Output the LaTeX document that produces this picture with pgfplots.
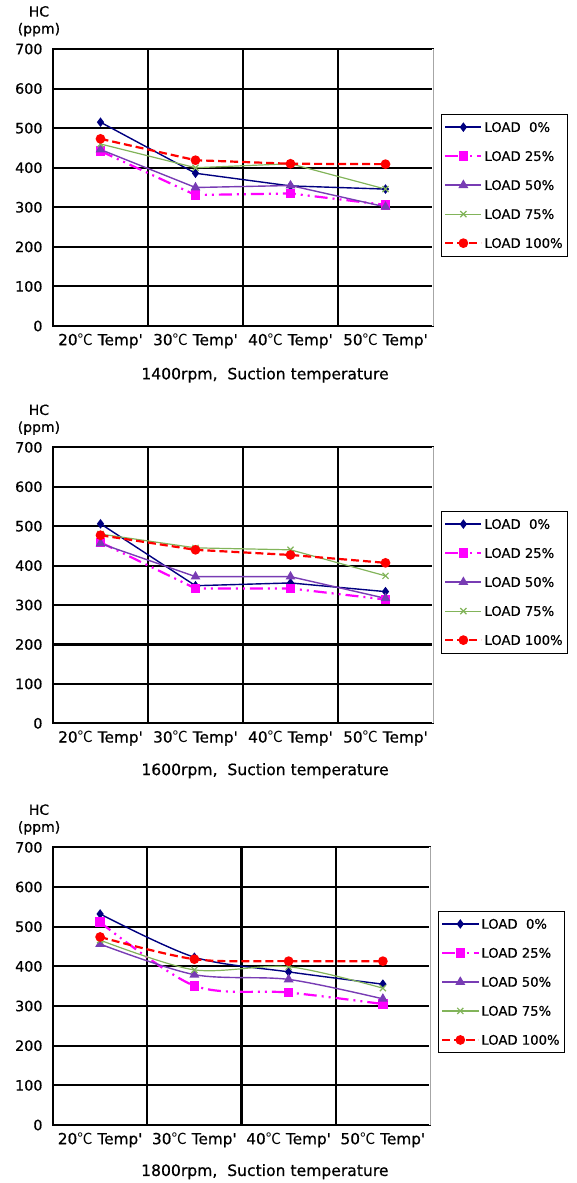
\documentclass[border=0pt]{standalone}
\usepackage{pgfplots}
\pgfplotsset{compat=1.18}
\usepackage{fontspec}
\setmainfont{DejaVu Sans}[BoldFont=DejaVu Sans, BoldFeatures={FakeBold=0.6}]
\newfontfamily\cjk{Noto Sans CJK KR}
\definecolor{cNavy}{RGB}{0,0,128}
\definecolor{cMag}{RGB}{255,0,255}
\definecolor{cPur}{RGB}{120,60,180}
\definecolor{cGrn}{RGB}{130,180,90}
\definecolor{cRed}{RGB}{255,0,0}
\newcommand{\dc}{{\cjk\mdseries ℃}}
\newcommand{\tq}{\textquotesingle}
\pgfplotsset{
  panel/.style={
    scale only axis,
    xmin=0, xmax=4, ymin=0, ymax=700,
    ytick={0,100,...,700},
    xtick={0.5,1.5,2.5,3.5},
    xticklabels={20\dc\ Temp\tq, 30\dc\ Temp\tq, 40\dc\ Temp\tq, 50\dc\ Temp\tq},
    extra x ticks={1,2,3}, extra x tick labels={},
    extra x tick style={grid=major, major tick length=0pt},
    ymajorgrids=true,
    major grid style={black, line width=2.1pt},
    axis line style={black, line width=2pt},
    major tick length=0pt, minor tick length=0pt,
    /pgf/number format/assume math mode=true,
    yticklabel style={font=\bfseries\fontsize{14.3}{16}\selectfont, anchor=east, xshift=-7pt},
    xticklabel style={font=\bfseries\fontsize{15.3}{17}\selectfont, anchor=north, yshift=-4pt},
    legend cell align=left,
    legend style={draw=black, line width=0.6pt, fill=white,
      font=\bfseries\fontsize{13.2}{15}\selectfont, anchor=north west,
      inner xsep=3pt, inner ysep=6pt, row sep=15.5pt,
      nodes={inner sep=2pt, text height=9.5pt, text depth=0pt}},
    legend image code/.code={\draw[mark repeat=2,mark phase=2] plot coordinates {(0pt,0pt) (18pt,0pt) (36pt,0pt)};},
    after end axis/.code={
      \draw[white, line width=2.2pt] (rel axis cs:1,0) -- (rel axis cs:1,1);
      \draw[gray!70, line width=1pt] (rel axis cs:1,0) -- (rel axis cs:1,1);
      \node[align=center, font=\bfseries\fontsize{14}{17}\selectfont] at (rel axis cs:-0.037,1.10) {HC\\(ppm)};
    },
  },
  s0/.style={cNavy, line width=1.4pt, mark=diamond*, mark size=3.7pt, mark options={solid, fill=cNavy}},
  s25/.style={cMag, line width=2.2pt, dash pattern=on 13pt off 5pt on 2pt off 5pt on 2pt off 5pt, mark=square*, mark size=3.7pt, mark options={solid, fill=cMag}},
  s50/.style={cPur, line width=1.4pt, mark=triangle*, mark size=4.3pt, mark options={solid, fill=cPur}},
  s75/.style={cGrn, line width=1.2pt, mark=x, mark size=4.3pt, mark options={solid}},
  s100/.style={cRed, line width=2.2pt, dash pattern=on 8pt off 4pt, mark=*, mark size=3.7pt, mark options={solid, fill=cRed}},
}
\begin{document}
\begin{tikzpicture}
\useasboundingbox (0pt,0pt) rectangle (576pt,-1183pt);
% Panel 1
\begin{axis}[panel, at={(53pt,-326pt)}, anchor=south west, width=380pt, height=277pt,
  xlabel={1400rpm,\ \ Suction temperature},
  xlabel style={font=\bfseries\fontsize{15.6}{17}\selectfont, at={(axis description cs:0.558,-0.177)}, anchor=center},
  legend style={at={(axis description cs:1.021,0.765)}}]
\addplot[s0] coordinates {(0.5,515) (1.5,386) (2.5,354) (3.5,346)};
\addlegendentry{LOAD\ \ 0\%}
\addplot[s25] coordinates {(0.5,442) (1.5,331) (2.5,335) (3.5,306)};
\addlegendentry{LOAD 25\%}
\addplot[s50] coordinates {(0.5,446) (1.5,350) (2.5,355) (3.5,301)};
\addlegendentry{LOAD 50\%}
\addplot[s75] coordinates {(0.5,460) (1.5,400) (2.5,410) (3.5,346)};
\addlegendentry{LOAD 75\%}
\addplot[s100] coordinates {(0.5,473) (1.5,419) (2.5,410) (3.5,409)};
\addlegendentry{LOAD 100\%}
\end{axis}
% Panel 2
\begin{axis}[panel, at={(53pt,-723.3pt)}, anchor=south west, width=380pt, height=276pt,
  xlabel={1600rpm,\ \ Suction temperature},
  xlabel style={font=\bfseries\fontsize{15.6}{17}\selectfont, at={(axis description cs:0.558,-0.172)}, anchor=center},
  legend style={at={(axis description cs:1.021,0.769)}}]
\addplot[s0] coordinates {(0.5,506) (1.5,349) (2.5,356) (3.5,334)};
\addlegendentry{LOAD\ \ 0\%}
\addplot[s25] coordinates {(0.5,459) (1.5,342) (2.5,342) (3.5,314)};
\addlegendentry{LOAD 25\%}
\addplot[s50] coordinates {(0.5,456) (1.5,372) (2.5,372) (3.5,317)};
\addlegendentry{LOAD 50\%}
\addplot[s75] coordinates {(0.5,480) (1.5,445) (2.5,440) (3.5,374)};
\addlegendentry{LOAD 75\%}
\addplot[s100] coordinates {(0.5,477) (1.5,440) (2.5,427) (3.5,407)};
\addlegendentry{LOAD 100\%}
\end{axis}
% Panel 3
\begin{axis}[panel, at={(53pt,-1125pt)}, anchor=south west, width=377pt, height=277.7pt,
  xlabel={1800rpm,\ \ Suction temperature},
  xlabel style={font=\bfseries\fontsize{15.6}{17}\selectfont, at={(axis description cs:0.562,-0.168)}, anchor=center},
  legend style={at={(axis description cs:1.021,0.771)}}]
\addplot[s0, smooth] coordinates {(0.5,532) (1.5,423) (2.5,386) (3.5,355)};
\addlegendentry{LOAD\ \ 0\%}
\addplot[s25, smooth] coordinates {(0.5,511) (1.5,351) (2.5,334) (3.5,305)};
\addlegendentry{LOAD 25\%}
\addplot[s50, smooth] coordinates {(0.5,456) (1.5,379) (2.5,367) (3.5,318)};
\addlegendentry{LOAD 50\%}
\addplot[s75, smooth] coordinates {(0.5,466) (1.5,391) (2.5,399) (3.5,345)};
\addlegendentry{LOAD 75\%}
\addplot[s100, smooth] coordinates {(0.5,474) (1.5,418) (2.5,413) (3.5,413)};
\addlegendentry{LOAD 100\%}
\end{axis}
\end{tikzpicture}
\end{document}
